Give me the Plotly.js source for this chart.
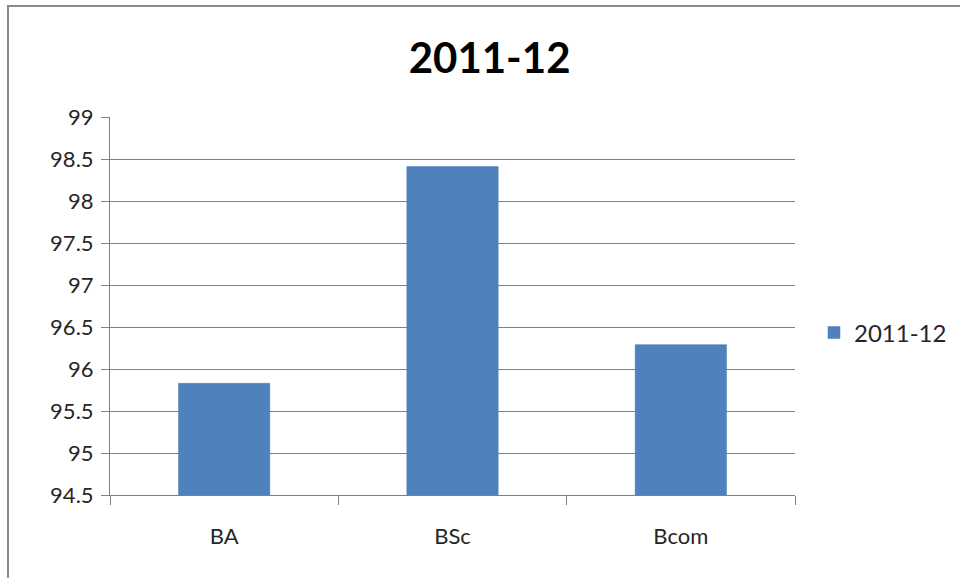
<!DOCTYPE html>
<html>
<head>
<meta charset="utf-8">
<script src="https://cdn.plot.ly/plotly-3.0.1.min.js"></script>
<style>
  html, body { margin: 0; padding: 0; background: #fff; overflow: hidden; }
  #frame { position: absolute; left: 7px; top: 5px; width: 1000px; height: 700px; border: 2px solid #8a8a8a; box-sizing: border-box; pointer-events: none; z-index: 2; }
  #chart { position: absolute; left: 0; top: 0; width: 960px; height: 578px; }
</style>
</head>
<body>
<div id="frame"></div>
<div id="chart"></div>
<script>
const categories = ["BA", "BSc", "Bcom"];
const values = [95.83, 98.41, 96.29];
const seriesName = "2011-12";
const yTicks = [94.5, 95, 95.5, 96, 96.5, 97, 97.5, 98, 98.5, 99];
const yTickLabels = ["94.5", "95", "95.5", "96", "96.5", "97", "97.5", "98", "98.5", "99"];

const font = "Lato, 'Open Sans', 'Noto Sans', sans-serif";
// paper spans x 110..955 (845 px); plot area spans 110..795
const paperW = 845;

Plotly.newPlot("chart", [{
  type: "bar",
  x: categories,
  y: values,
  name: seriesName,
  marker: { color: "#4f81bd", line: { color: "#4a7ab5", width: 0.5 } },
  width: 0.4,
  showlegend: true,
  hoverinfo: "x+y"
}], {
  width: 960,
  height: 578,
  margin: { l: 110, r: 5, t: 117, b: 83 },
  paper_bgcolor: "#ffffff",
  plot_bgcolor: "#ffffff",
  title: {
    text: "<b>2011-12</b>",
    font: { family: font, size: 42, color: "#000000" },
    x: 0.51, xanchor: "center",
    y: 0.9, yanchor: "middle"
  },
  xaxis: {
    type: "category",
    domain: [0, 685 / paperW],
    showline: true, linecolor: "#808080", linewidth: 1,
    ticks: "outside", tickson: "boundaries", ticklen: 9, tickcolor: "#808080",
    tickfont: { family: font, size: 22, color: "#262626" },
    ticklabelstandoff: 22,
    showgrid: false,
    fixedrange: true
  },
  yaxis: {
    range: [94.5, 99],
    tickvals: yTicks,
    ticktext: yTickLabels,
    showline: true, linecolor: "#808080", linewidth: 1,
    ticks: "outside", ticklen: 8, tickcolor: "#808080",
    showgrid: true, gridcolor: "#808080", gridwidth: 1,
    zeroline: false,
    tickfont: { family: font, size: 22, color: "#262626" },
    ticklabelstandoff: 3,
    fixedrange: true
  },
  legend: {
    x: (814 - 110) / paperW, xanchor: "left",
    y: 0.4286, yanchor: "middle",
    font: { family: font, size: 24, color: "#262626" },
    bgcolor: "rgba(0,0,0,0)"
  },
  bargap: 0.6,
  showlegend: true
}, { displayModeBar: false, staticPlot: true });
</script>
</body>
</html>
